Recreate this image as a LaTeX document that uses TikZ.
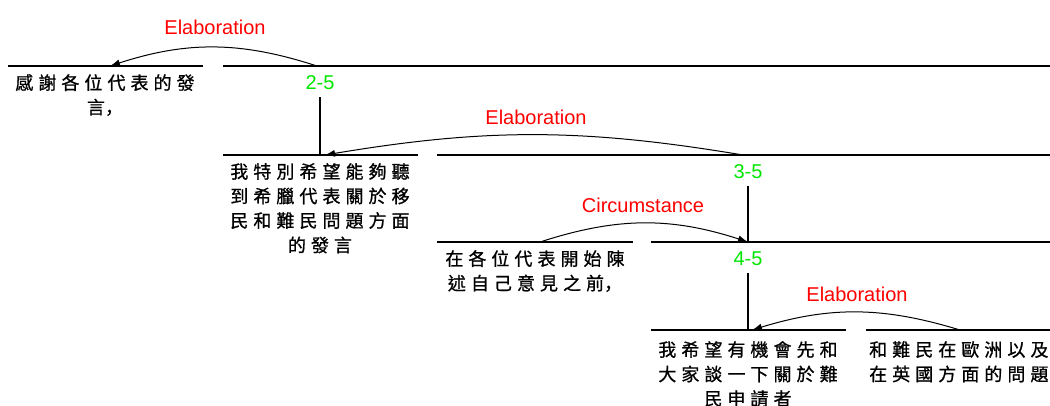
\documentclass[tikz,border=0pt]{standalone}
\usepackage{fontspec}
\setmainfont{Liberation Sans}
\newfontfamily\cjk[LetterSpace=28, FakeBold=0.9]{Noto Sans CJK TC}
\newfontfamily\cjksc[LetterSpace=28, FakeBold=0.9]{Noto Sans CJK SC}
\newcommand{\fwcomma}{{\cjksc ，}}
\usetikzlibrary{arrows.meta}
\definecolor{relred}{RGB}{255,0,0}
\definecolor{spangreen}{RGB}{0,230,0}
\tikzset{
    spanline/.style = {line width = 1.3pt},
    relarc/.style = {line width = 1pt, -{Latex[length = 10pt, width = 7pt]}},
    relname/.style = {text = relred, font = \fontsize{20}{24}\selectfont, inner sep = 0},
    spannum/.style = {text = spangreen, font = \fontsize{20}{24}\selectfont, inner sep = 0, outer ysep = 7pt},
    edu/.style = {font = \fontsize{18}{24.5}\selectfont\cjk, align = center, anchor = north, inner sep = 0}
}
\begin{document}
\begin{tikzpicture}[x = 1pt, y = -1pt]
    \useasboundingbox (0,0) rectangle (1050,405);
    \coordinate (e1l) at (8,66);    \coordinate (e1r) at (203,66);
    \coordinate (s2l) at (223,66);  \coordinate (s2r) at (1050,66);
    \coordinate (e2l) at (223,155); \coordinate (e2r) at (418,155);
    \coordinate (s3l) at (437,155); \coordinate (s3r) at (1050,155);
    \coordinate (e3l) at (437,242); \coordinate (e3r) at (633,242);
    \coordinate (s4l) at (651,242); \coordinate (s4r) at (1050,242);
    \coordinate (e4l) at (651,330); \coordinate (e4r) at (846,330);
    \coordinate (e5l) at (866,330); \coordinate (e5r) at (1050,330);
    \begin{scope}[spanline]
        \draw (e1l) -- (e1r);
        \draw (s2l) -- (s2r);
        \draw (e2l) -- (e2r);
        \draw (s3l) -- (s3r);
        \draw (e3l) -- (e3r);
        \draw (s4l) -- (s4r);
        \draw (e4l) -- (e4r);
        \draw (e5l) -- (e5r);
    \end{scope}
    \node[spannum] (n25) at (320,83) {2-5};
    \node[spannum] (n35) at (748,172) {3-5};
    \node[spannum] (n45) at (748,259) {4-5};
    \coordinate (h2) at (320,155);
    \coordinate (h3) at (748,242);
    \coordinate (h4) at (748,330);
    \begin{scope}[spanline]
        \draw (n25.south) -- (h2);
        \draw (n35.south) -- (h3);
        \draw (n45.south) -- (h4);
    \end{scope}
    \node[edu] (t1) at (105,74) {感謝各位代表的發\\言\fwcomma};
    \node[edu] (t2) at (320,163) {我特別希望能夠聽\\到希臘代表關於移\\民和難民問題方面\\的發言};
    \node[edu] (t3) at (535,250) {在各位代表開始陳\\述自己意見之前\fwcomma};
    \node[edu] (t4) at (748,341) {我希望有機會先和\\大家談一下關於難\\民申請者};
    \node[edu, anchor = north west, align = left] (t5) at (869,341) {和難民在歐洲以及\\在英國方面的問題};
    \coordinate (r1s) at (317,66); \coordinate (r1t) at (110,66);
    \coordinate (r2s) at (743,155); \coordinate (r2t) at (325,155);
    \coordinate (r3s) at (540,242); \coordinate (r3t) at (748,242);
    \coordinate (r4s) at (960,330); \coordinate (r4t) at (752,330);
    \draw[relarc] (r1s) to[bend right = 18] (r1t);
    \draw[relarc] (r2s) to[bend right = 9.5] (r2t);
    \draw[relarc] (r3s) to[bend left = 18] (r3t);
    \draw[relarc] (r4s) to[bend right = 17] (r4t);
    \node[relname] (l1) at (215,27) {Elaboration};
    \node[relname] (l2) at (536,117) {Elaboration};
    \node[relname] (l3) at (643,205) {Circumstance};
    \node[relname] (l4) at (857,294) {Elaboration};
\end{tikzpicture}
\end{document}
